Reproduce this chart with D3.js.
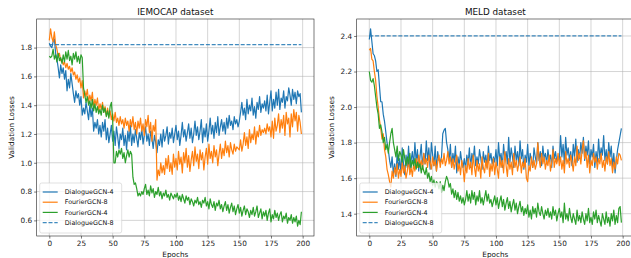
<!DOCTYPE html>
<html>
<head>
<meta charset="utf-8">
<script src="https://cdn.jsdelivr.net/npm/d3@7"></script>
<style>
  body { margin: 0; background: #fff; }
  svg { display: block; font-family: "DejaVu Sans", sans-serif; }
</style>
</head>
<body>
<svg id="chart" width="631" height="258"></svg>
<script>
// series names + colours (matplotlib tab10)
const seriesNames = ['DialogueGCN-4', 'FourierGCN-8', 'FourierGCN-4', 'DialogueGCN-8'];
const seriesColors = ['#1f77b4', '#ff7f0e', '#2ca02c', '#1f77b4'];
const xTicks = [0, 25, 50, 75, 100, 125, 150, 175, 200];
const iemocapYTicks = [0.6, 0.8, 1.0, 1.2, 1.4, 1.6, 1.8];
const meldYTicks = [1.4, 1.6, 1.8, 2.0, 2.2, 2.4];

// IEMOCAP validation losses, one value per epoch (0..199)
const iemocapDialogue4 = [
  1.83, 1.81, 1.80, 1.84, 1.86, 1.76, 1.72, 1.66, 1.59, 1.68,
  1.62, 1.66, 1.58, 1.64, 1.50, 1.58, 1.52, 1.62, 1.55, 1.48,
  1.42, 1.50, 1.45, 1.48, 1.40, 1.46, 1.33, 1.38, 1.34, 1.42,
  1.36, 1.30, 1.40, 1.32, 1.38, 1.22, 1.28, 1.24, 1.30, 1.20,
  1.26, 1.18, 1.28, 1.22, 1.30, 1.16, 1.24, 1.14, 1.20, 1.26,
  1.15, 1.22, 1.12, 1.25, 1.18, 1.10, 1.20, 1.16, 1.24, 1.12,
  1.19, 1.09, 1.22, 1.15, 1.26, 1.12, 1.20, 1.14, 1.23, 1.17,
  1.11, 1.21, 1.16, 1.24, 1.13, 1.19, 1.25, 1.15, 1.20, 1.12,
  1.22, 1.17, 1.10, 1.19, 1.14, 1.07, 1.16, 1.12, 1.20, 1.11,
  1.23, 1.15, 1.19, 1.25, 1.13, 1.21, 1.17, 1.24, 1.14, 1.20,
  1.26, 1.16, 1.22, 1.12, 1.19, 1.28, 1.18, 1.23, 1.15, 1.21,
  1.27, 1.17, 1.24, 1.14, 1.20, 1.29, 1.19, 1.25, 1.16, 1.22,
  1.30, 1.14, 1.24, 1.18, 1.27, 1.15, 1.22, 1.31, 1.20, 1.26,
  1.17, 1.28, 1.21, 1.32, 1.19, 1.25, 1.30, 1.22, 1.28, 1.20,
  1.31, 1.24, 1.33, 1.26, 1.29, 1.23, 1.32, 1.27, 1.30, 1.25,
  1.29, 1.35, 1.42, 1.33, 1.38, 1.30, 1.44, 1.34, 1.40, 1.36,
  1.45, 1.33, 1.39, 1.31, 1.42, 1.37, 1.46, 1.35, 1.41, 1.38,
  1.43, 1.36, 1.47, 1.34, 1.42, 1.50, 1.36, 1.44, 1.38, 1.49,
  1.40, 1.51, 1.37, 1.45, 1.42, 1.50, 1.38, 1.46, 1.43, 1.52,
  1.47, 1.40, 1.51, 1.44, 1.49, 1.41, 1.50, 1.46, 1.48, 1.35
];
const iemocapFourier8 = [
  1.85, 1.93, 1.87, 1.84, 1.91, 1.82, 1.79, 1.74, 1.76, 1.71,
  1.72, 1.68, 1.70, 1.66, 1.69, 1.65, 1.67, 1.63, 1.66, 1.61,
  1.63, 1.58, 1.61, 1.56, 1.59, 1.52, 1.57, 1.45, 1.50, 1.46,
  1.51, 1.42, 1.47, 1.43, 1.49, 1.38, 1.44, 1.40, 1.45, 1.36,
  1.41, 1.37, 1.42, 1.35, 1.39, 1.33, 1.38, 1.32, 1.36, 1.30,
  1.34, 1.29, 1.35, 1.28, 1.31, 1.26, 1.32, 1.27, 1.30, 1.24,
  1.31, 1.26, 1.29, 1.22, 1.30, 1.25, 1.32, 1.23, 1.28, 1.20,
  1.29, 1.24, 1.31, 1.22, 1.27, 1.19, 1.30, 1.25, 1.33, 1.21,
  1.28, 1.15, 1.26, 1.22, 1.30, 0.88, 0.95, 0.91, 1.00, 0.93,
  0.98, 0.92, 1.03, 0.96, 1.05, 0.94, 1.00, 0.92, 1.06, 0.97,
  1.03, 0.95, 1.08, 0.99, 1.04, 0.93, 1.07, 1.00, 1.10, 0.97,
  1.05, 0.94, 1.02, 1.08, 0.98, 1.11, 1.01, 1.06, 0.96, 1.09,
  1.02, 1.07, 0.95, 1.04, 1.10, 0.99, 1.13, 1.03, 1.08, 1.00,
  1.12, 1.04, 1.09, 0.98, 1.06, 1.13, 1.03, 1.10, 1.05, 1.15,
  1.07, 1.12, 1.04, 1.14, 1.09, 1.06, 1.13, 1.08, 1.11, 1.10,
  1.09, 1.16, 1.08, 1.13, 1.21, 1.12, 1.18, 1.10, 1.23, 1.14,
  1.20, 1.16, 1.25, 1.13, 1.22, 1.18, 1.26, 1.19, 1.23, 1.21,
  1.24, 1.20, 1.27, 1.22, 1.25, 1.18, 1.29, 1.17, 1.31, 1.22,
  1.26, 1.34, 1.21, 1.30, 1.24, 1.33, 1.19, 1.35, 1.27, 1.31,
  1.18, 1.34, 1.25, 1.37, 1.29, 1.35, 1.22, 1.33, 1.28, 1.20
];
const iemocapFourier4 = [
  1.74, 1.73, 1.74, 1.79, 1.72, 1.75, 1.70, 1.76, 1.71, 1.73,
  1.69, 1.75, 1.70, 1.77, 1.72, 1.78, 1.71, 1.74, 1.68, 1.76,
  1.72, 1.77, 1.70, 1.74, 1.69, 1.75, 1.73, 1.52, 1.47, 1.42,
  1.46, 1.40, 1.43, 1.38, 1.44, 1.36, 1.41, 1.35, 1.39, 1.34,
  1.37, 1.33, 1.40, 1.35, 1.38, 1.32, 1.36, 1.31, 1.39, 1.42,
  1.30, 1.00, 1.00, 1.08, 1.04, 1.09, 1.06, 1.10, 1.03, 1.07,
  1.00, 1.05, 1.09, 1.04, 1.08, 1.06, 0.90, 0.85, 0.86, 0.82,
  0.77, 0.79, 0.77, 0.80, 0.78, 0.82, 0.85, 0.78, 0.81, 0.77,
  0.84, 0.79, 0.82, 0.76, 0.80, 0.78, 0.83, 0.77, 0.80, 0.75,
  0.79, 0.77, 0.81, 0.76, 0.78, 0.74, 0.79, 0.77, 0.75, 0.78,
  0.76, 0.79, 0.74, 0.77, 0.73, 0.78, 0.75, 0.72, 0.77, 0.74,
  0.76, 0.71, 0.75, 0.73, 0.70, 0.74, 0.72, 0.76, 0.71, 0.73,
  0.69, 0.74, 0.72, 0.76, 0.70, 0.73, 0.68, 0.75, 0.71, 0.69,
  0.73, 0.67, 0.72, 0.70, 0.74, 0.68, 0.71, 0.66, 0.70, 0.73,
  0.67, 0.71, 0.65, 0.69, 0.72, 0.66, 0.70, 0.64, 0.68, 0.71,
  0.65, 0.69, 0.63, 0.67, 0.70, 0.64, 0.68, 0.66, 0.62, 0.67,
  0.64, 0.69, 0.63, 0.66, 0.70, 0.62, 0.65, 0.68, 0.61, 0.66,
  0.63, 0.67, 0.60, 0.65, 0.68, 0.59, 0.64, 0.61, 0.67, 0.62,
  0.65, 0.60, 0.64, 0.66, 0.59, 0.63, 0.61, 0.65, 0.58, 0.62,
  0.60, 0.64, 0.58, 0.62, 0.59, 0.63, 0.56, 0.60, 0.57, 0.66
];
const iemocapDialogue8 = [1.82, 1.82];

// MELD validation losses
const meldDialogue4 = [
  2.38, 2.44, 2.37, 2.30, 2.29, 2.26, 2.20, 2.21, 2.12, 2.03,
  2.03, 1.96, 1.92, 1.86, 1.80, 1.76, 1.70, 1.66, 1.72, 1.62,
  1.68, 1.61, 1.74, 1.65, 1.71, 1.63, 1.77, 1.68, 1.62, 1.73,
  1.66, 1.78, 1.64, 1.70, 1.75, 1.67, 1.80, 1.69, 1.76, 1.64,
  1.72, 1.79, 1.66, 1.74, 1.68, 1.81, 1.70, 1.77, 1.65, 1.80,
  1.73, 1.67, 1.78, 1.64, 1.75, 1.70, 1.69, 1.72, 1.85, 1.87,
  1.88, 1.80, 1.76, 1.70, 1.79, 1.66, 1.74, 1.69, 1.78, 1.63,
  1.72, 1.67, 1.75, 1.69, 1.66, 1.71, 1.65, 1.73, 1.68, 1.77,
  1.66, 1.74, 1.70, 1.78, 1.67, 1.72, 1.68, 1.76, 1.71, 1.65,
  1.75, 1.69, 1.73, 1.66, 1.78, 1.70, 1.74, 1.68, 1.72, 1.69,
  1.76, 1.67, 1.80, 1.70, 1.74, 1.66, 1.79, 1.71, 1.75, 1.68,
  1.83, 1.69, 1.77, 1.72, 1.66, 1.78, 1.70, 1.75, 1.67, 1.81,
  1.71, 1.76, 1.65, 1.73, 1.69, 1.79, 1.67, 1.74, 1.70, 1.66,
  1.77, 1.72, 1.68, 1.80, 1.70, 1.75, 1.67, 1.78, 1.71, 1.74,
  1.68, 1.76, 1.70, 1.73, 1.66, 1.78, 1.71, 1.75, 1.69, 1.72,
  1.70, 1.84, 1.72, 1.79, 1.68, 1.83, 1.73, 1.77, 1.70, 1.75,
  1.67, 1.79, 1.72, 1.82, 1.69, 1.76, 1.71, 1.80, 1.74, 1.83,
  1.70, 1.78, 1.73, 1.81, 1.68, 1.76, 1.72, 1.79, 1.66, 1.75,
  1.69, 1.82, 1.71, 1.77, 1.73, 1.84, 1.70, 1.76, 1.68, 1.80,
  1.72, 1.78, 1.66, 1.74, 1.63, 1.70, 1.76, 1.80, 1.84, 1.88
];
const meldFourier8 = [
  2.32, 2.33, 2.27, 2.26, 2.20, 2.15, 2.06, 2.00, 1.93, 1.88,
  1.82, 1.85, 1.76, 1.72, 1.65, 1.62, 1.58, 1.55, 1.64, 1.60,
  1.66, 1.62, 1.68, 1.60, 1.65, 1.61, 1.69, 1.63, 1.67, 1.60,
  1.64, 1.70, 1.62, 1.66, 1.61, 1.68, 1.64, 1.71, 1.66, 1.73,
  1.67, 1.70, 1.65, 1.74, 1.68, 1.71, 1.66, 1.73, 1.69, 1.65,
  1.72, 1.67, 1.70, 1.64, 1.69, 1.73, 1.66, 1.71, 1.68, 1.74,
  1.67, 1.70, 1.75, 1.68, 1.72, 1.66, 1.71, 1.65, 1.69, 1.73,
  1.64, 1.68, 1.62, 1.70, 1.66, 1.58, 1.67, 1.63, 1.71, 1.65,
  1.69, 1.62, 1.73, 1.66, 1.61, 1.70, 1.64, 1.68, 1.60, 1.72,
  1.66, 1.63, 1.70, 1.65, 1.74, 1.61, 1.68, 1.64, 1.71, 1.62,
  1.69, 1.65, 1.60, 1.72, 1.66, 1.70, 1.63, 1.75, 1.67, 1.61,
  1.71, 1.65, 1.69, 1.62, 1.74, 1.66, 1.70, 1.64, 1.68, 1.72,
  1.63, 1.69, 1.66, 1.71, 1.60, 1.58, 1.67, 1.64, 1.72, 1.66,
  1.70, 1.65, 1.68, 1.80, 1.71, 1.66, 1.74, 1.68, 1.72, 1.65,
  1.70, 1.67, 1.73, 1.64, 1.69, 1.76, 1.66, 1.71, 1.68, 1.74,
  1.67, 1.72, 1.65, 1.70, 1.63, 1.75, 1.68, 1.71, 1.66, 1.73,
  1.69, 1.64, 1.72, 1.67, 1.78, 1.70, 1.74, 1.68, 1.76, 1.81,
  1.71, 1.75, 1.66, 1.73, 1.63, 1.70, 1.67, 1.74, 1.69, 1.72,
  1.65, 1.71, 1.68, 1.74, 1.66, 1.70, 1.64, 1.72, 1.68, 1.75,
  1.67, 1.71, 1.63, 1.69, 1.65, 1.72, 1.68, 1.74, 1.73, 1.70
];
const meldFourier4 = [
  2.20, 2.15, 2.14, 2.16, 2.12, 2.06, 2.00, 1.96, 1.88, 1.90,
  1.86, 1.80, 1.83, 1.76, 1.79, 1.74, 1.80, 1.85, 1.88, 1.80,
  1.76, 1.72, 1.78, 1.70, 1.75, 1.73, 1.69, 1.76, 1.71, 1.67,
  1.72, 1.68, 1.74, 1.66, 1.70, 1.67, 1.71, 1.65, 1.69, 1.66,
  1.68, 1.63, 1.67, 1.64, 1.62, 1.66, 1.60, 1.63, 1.58, 1.61,
  1.56, 1.59, 1.55, 1.58, 1.57, 1.54, 1.58, 1.52, 1.56, 1.53,
  1.58, 1.61, 1.59, 1.55, 1.57, 1.51, 1.54, 1.49, 1.53, 1.48,
  1.52, 1.47, 1.50, 1.46, 1.49, 1.45, 1.48, 1.53, 1.47, 1.51,
  1.46, 1.53, 1.48, 1.52, 1.45, 1.50, 1.47, 1.53, 1.46, 1.49,
  1.45, 1.49, 1.53, 1.47, 1.51, 1.46, 1.48, 1.44, 1.47, 1.50,
  1.45, 1.49, 1.43, 1.47, 1.50, 1.44, 1.48, 1.42, 1.46, 1.49,
  1.43, 1.47, 1.41, 1.45, 1.48, 1.42, 1.46, 1.40, 1.44, 1.47,
  1.41, 1.44, 1.39, 1.43, 1.40, 1.45, 1.38, 1.42, 1.37, 1.44,
  1.40, 1.43, 1.38, 1.46, 1.41, 1.39, 1.44, 1.40, 1.37, 1.42,
  1.39, 1.43, 1.38, 1.41, 1.37, 1.44, 1.39, 1.42, 1.36, 1.40,
  1.43, 1.38, 1.41, 1.35, 1.46, 1.37, 1.40, 1.36, 1.43, 1.38,
  1.35, 1.40, 1.37, 1.34, 1.42, 1.36, 1.39, 1.35, 1.41, 1.37,
  1.34, 1.40, 1.36, 1.43, 1.35, 1.38, 1.34, 1.41, 1.37, 1.42,
  1.35, 1.39, 1.36, 1.33, 1.40, 1.37, 1.34, 1.41, 1.35, 1.38,
  1.33, 1.40, 1.36, 1.42, 1.34, 1.39, 1.35, 1.43, 1.44, 1.35
];
const meldDialogue8 = [2.40, 2.40];

const panels = [
  { title: 'IEMOCAP dataset', left: 36.7, yTicks: iemocapYTicks,
    series: [iemocapDialogue4, iemocapFourier8, iemocapFourier4, iemocapDialogue8] },
  { title: 'MELD dataset', left: 356.7, yTicks: meldYTicks,
    series: [meldDialogue4, meldFourier8, meldFourier4, meldDialogue8] }
];

const axW = 277.3, axTop = 19, axBottom = 236;
const svg = d3.select('#chart');

// constant (dashed) series span the first to the last epoch
const toPoints = (vals) => vals.length === 2
  ? [[0, vals[0]], [199, vals[1]]]
  : vals.map((v, i) => [i, v]);

const drawPanel = (p) => {
  const all = p.series.flat();
  const [lo, hi] = d3.extent(all);
  const pad = (hi - lo) * 0.05;
  const x = d3.scaleLinear().domain([-9.95, 208.95]).range([p.left, p.left + axW]);
  const y = d3.scaleLinear().domain([lo - pad, hi + pad]).range([axBottom, axTop]);
  const g = svg.append('g');

  // grid
  g.append('g').selectAll('line').data(xTicks).join('line')
    .attr('x1', d => x(d)).attr('x2', d => x(d)).attr('y1', axTop).attr('y2', axBottom)
    .attr('stroke', '#b0b0b0').attr('stroke-opacity', 0.6).attr('stroke-width', 0.9);
  g.append('g').selectAll('line').data(p.yTicks).join('line')
    .attr('x1', p.left).attr('x2', p.left + axW).attr('y1', d => y(d)).attr('y2', d => y(d))
    .attr('stroke', '#b0b0b0').attr('stroke-opacity', 0.6).attr('stroke-width', 0.9);

  // axes
  const xAxis = g.append('g').attr('transform', `translate(0,${axBottom})`)
    .call(d3.axisBottom(x).tickValues(xTicks).tickSize(2.6).tickPadding(2).tickFormat(d3.format('d')));
  const yAxis = g.append('g').attr('transform', `translate(${p.left},0)`)
    .call(d3.axisLeft(y).tickValues(p.yTicks).tickSize(2.6).tickPadding(2).tickFormat(d3.format('.1f')));
  [xAxis, yAxis].forEach(a => {
    a.select('.domain').remove();
    a.selectAll('line').attr('stroke', '#222').attr('stroke-width', 0.6);
    a.selectAll('text').attr('font-size', 7.3).attr('fill', '#222')
      .attr('font-family', '"DejaVu Sans", sans-serif');
  });

  // lines
  const line = d3.line().x(d => x(d[0])).y(d => y(d[1]));
  const clipId = 'clip' + Math.round(p.left);
  svg.append('clipPath').attr('id', clipId).append('rect')
    .attr('x', p.left).attr('y', axTop).attr('width', axW).attr('height', axBottom - axTop);
  const lines = g.append('g').attr('clip-path', `url(#${clipId})`);
  p.series.forEach((s, i) => {
    lines.append('path').datum(toPoints(s))
      .attr('d', line).attr('fill', 'none')
      .attr('stroke', seriesColors[i]).attr('stroke-width', 1.2)
      .attr('stroke-linejoin', 'round')
      .attr('stroke-dasharray', i === 3 ? '4,1.8' : null)
      .attr('stroke-opacity', i === 3 ? 0.85 : 1);
  });

  // spines
  g.append('rect').attr('x', p.left).attr('y', axTop).attr('width', axW).attr('height', axBottom - axTop)
    .attr('fill', 'none').attr('stroke', '#222').attr('stroke-width', 0.6);

  // labels
  const cx = p.left + axW / 2;
  g.append('text').attr('x', cx).attr('y', 14.5).attr('text-anchor', 'middle')
    .attr('font-size', 8.8).attr('fill', '#111').text(p.title);
  g.append('text').attr('x', cx).attr('y', 257).attr('text-anchor', 'middle')
    .attr('font-size', 7.3).attr('fill', '#111').text('Epochs');
  g.append('text').attr('transform', `translate(${p.left - 23},${(axTop + axBottom) / 2}) rotate(-90)`)
    .attr('text-anchor', 'middle').attr('font-size', 7.3).attr('fill', '#111').text('Validation Losses');

  // legend, lower left
  const lx = p.left + 3, ly = axBottom - 3 - 50;
  const lg = g.append('g').attr('transform', `translate(${lx},${ly})`);
  lg.append('rect').attr('width', 82).attr('height', 50).attr('rx', 2)
    .attr('fill', '#fff').attr('fill-opacity', 0.8).attr('stroke', '#ccc').attr('stroke-width', 0.6);
  seriesNames.forEach((name, i) => {
    const yy = 9 + i * 10.2;
    lg.append('line').attr('x1', 3).attr('x2', 18).attr('y1', yy).attr('y2', yy)
      .attr('stroke', seriesColors[i]).attr('stroke-width', 1.2)
      .attr('stroke-dasharray', i === 3 ? '4,1.8' : null)
      .attr('stroke-opacity', i === 3 ? 0.85 : 1);
    lg.append('text').attr('x', 25).attr('y', yy).attr('dy', '0.35em')
      .attr('font-size', 6.4).attr('fill', '#111').text(name);
  });
};

panels.forEach(drawPanel);
</script>
</body>
</html>
